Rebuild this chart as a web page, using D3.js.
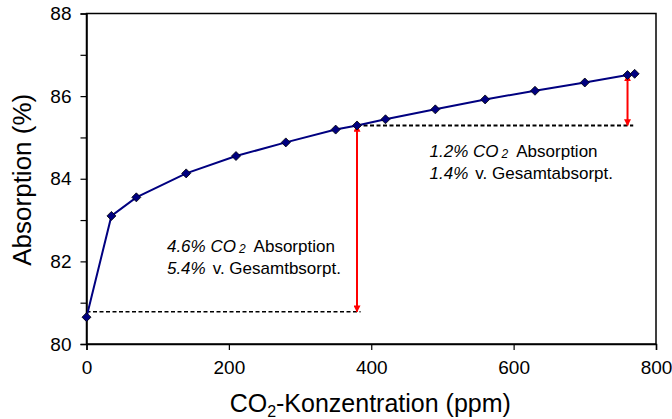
<!DOCTYPE html>
<html>
<head>
<meta charset="utf-8">
<script src="https://cdn.jsdelivr.net/npm/d3@7"></script>
<style>
  body { margin: 0; background: #fff; }
  svg { font-family: "Liberation Sans", Arial, sans-serif; }
</style>
</head>
<body>
<svg id="chart" width="672" height="419"></svg>
<script>
// data
var ppm = [0, 35, 70, 140, 210, 280, 350, 380, 420, 490, 560, 630, 700, 760, 770];
var absorption = [80.65, 83.10, 83.55, 84.13, 84.55, 84.88, 85.19, 85.29, 85.44, 85.68, 85.92, 86.13, 86.33, 86.51, 86.54];
var xTicks = [0, 200, 400, 600, 800];
var yTicks = [80, 81, 82, 83, 84, 85, 86, 87, 88];

// dashed reference lines: [x1, x2, y]
var refLines = [[0, 385, 80.78], [380, 768, 85.29]];
// double arrows: [x, yFrom, yTo]
var arrows = [[380, 80.78, 85.29], [760, 85.29, 86.51]];
// annotation: [x, y, pct1, pct2, text2]
var notes = [
  [113, 82.23, "4.6%", "5.4%", "v. Gesamtbsorpt."],
  [482, 84.53, "1.2%", "1.4%", "v. Gesamtabsorpt."]
];

var svg = d3.select("#chart");
var plotLeft = 86.5, plotRight = 656, plotTop = 13.5, plotBottom = 344;

var x = d3.scaleLinear().domain([0, 800]).range([plotLeft, plotRight]);
var y = d3.scaleLinear().domain([80, 88]).range([plotBottom, plotTop]);

// frame
svg.append("rect")
  .attr("x", plotLeft).attr("y", plotTop)
  .attr("width", plotRight - plotLeft).attr("height", plotBottom - plotTop)
  .attr("fill", "none").attr("stroke", "#000").attr("stroke-width", 1.5);

// axes
var yAxis = svg.append("g")
  .attr("transform", "translate(" + plotLeft + ",0)")
  .call(d3.axisLeft(y).tickValues(yTicks).tickSize(6).tickPadding(9)
    .tickFormat(function(d){ return d % 2 == 0 ? d : ""; }));
var xAxis = svg.append("g")
  .attr("transform", "translate(0," + plotBottom + ")")
  .call(d3.axisBottom(x).tickValues(xTicks).tickSize(6).tickPadding(11));

[yAxis, xAxis].forEach(function(a){
  a.attr("font-size", 19).attr("font-family", "Liberation Sans, Arial, sans-serif");
  a.select(".domain").attr("stroke", "#000").attr("stroke-width", 1.5);
  a.selectAll(".tick line").attr("stroke", "#000").attr("stroke-width", 1.2);
  a.selectAll(".tick text").attr("fill", "#000");
});

// dashed lines
svg.selectAll("line.ref")
  .data(refLines)
  .enter()
  .append("line")
  .attr("class", "ref")
  .attr("x1", function(d){ return x(d[0]); })
  .attr("x2", function(d){ return x(d[1]); })
  .attr("y1", function(d){ return y(d[2]); })
  .attr("y2", function(d){ return y(d[2]); })
  .attr("stroke", "#000")
  .attr("stroke-width", function(d, i){ return i == 0 ? 1.5 : 2; })
  .attr("stroke-dasharray", "4,2.5");

// arrow markers
var defs = svg.append("defs");
defs.append("marker")
  .attr("id", "head")
  .attr("viewBox", "0 0 10 10")
  .attr("refX", 9).attr("refY", 5)
  .attr("markerWidth", 7).attr("markerHeight", 7)
  .attr("markerUnits", "userSpaceOnUse")
  .attr("orient", "auto-start-reverse")
  .append("path")
  .attr("d", "M0,0 L10,5 L0,10 Z")
  .attr("fill", "#ff0000");

svg.selectAll("line.arrow")
  .data(arrows)
  .enter()
  .append("line")
  .attr("class", "arrow")
  .attr("x1", function(d){ return x(d[0]); })
  .attr("x2", function(d){ return x(d[0]); })
  .attr("y1", function(d){ return y(d[1]); })
  .attr("y2", function(d){ return y(d[2]); })
  .attr("stroke", "#ff0000")
  .attr("stroke-width", 2)
  .attr("marker-start", "url(#head)")
  .attr("marker-end", "url(#head)");

// data line
var pts = ppm.map(function(d, i){ return [d, absorption[i]]; });
svg.append("path")
  .datum(pts)
  .attr("d", d3.line().x(function(d){ return x(d[0]); }).y(function(d){ return y(d[1]); }))
  .attr("fill", "none")
  .attr("stroke", "#000080")
  .attr("stroke-width", 2);

svg.selectAll("path.marker")
  .data(pts)
  .enter()
  .append("path")
  .attr("class", "marker")
  .attr("transform", function(d){ return "translate(" + x(d[0]) + "," + y(d[1]) + ")"; })
  .attr("d", "M0,-4.5 L4.5,0 L0,4.5 L-4.5,0 Z")
  .attr("fill", "#000080")
  .attr("stroke", "#000")
  .attr("stroke-width", 0.8);

// annotations
notes.forEach(function(n){
  var t1 = svg.append("text")
    .attr("x", x(n[0])).attr("y", y(n[1]))
    .attr("font-size", 17).attr("fill", "#000");
  t1.append("tspan").attr("font-style", "italic").text(n[2] + " CO");
  t1.append("tspan").attr("font-style", "italic").attr("font-size", 12).attr("dx", 3).attr("dy", 1).text("2");
  t1.append("tspan").attr("dy", -1).attr("dx", 8).text("Absorption");

  var t2 = svg.append("text")
    .attr("x", x(n[0])).attr("y", y(n[1]) + 22)
    .attr("font-size", 17).attr("fill", "#000");
  t2.append("tspan").attr("font-style", "italic").text(n[3]);
  t2.append("tspan").attr("dx", 7).text(n[4]);
});

// axis titles
var xt = svg.append("text")
  .attr("x", (plotLeft + plotRight) / 2 - 1).attr("y", 412)
  .attr("text-anchor", "middle")
  .attr("font-size", 25).attr("fill", "#000");
xt.append("tspan").text("CO");
xt.append("tspan").attr("font-size", 16).attr("dy", 5).text("2");
xt.append("tspan").attr("dy", -5).text("-Konzentration (ppm)");

svg.append("text")
  .attr("transform", "translate(31," + ((plotTop + plotBottom) / 2 + 1) + ") rotate(-90)")
  .attr("text-anchor", "middle")
  .attr("font-size", 26).attr("fill", "#000")
  .text("Absorption (%)");
</script>
</body>
</html>
